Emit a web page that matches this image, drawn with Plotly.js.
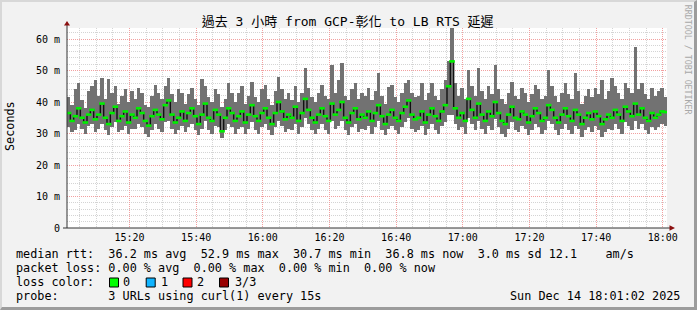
<!DOCTYPE html>
<html><head><meta charset="utf-8">
<script src="https://cdn.plot.ly/plotly-3.0.1.min.js"></script>
<style>
html,body{margin:0;padding:0;background:#f2f2f2;}
#wrap{position:relative;width:697px;height:310px;overflow:hidden;}
#chart{width:697px;height:310px;}
#frame{position:absolute;left:0;top:0;width:697px;height:310px;box-sizing:border-box;pointer-events:none;
 border-top:2px solid #d8d8d8;border-left:2px solid #d8d8d8;border-right:3px solid #9c9c9c;border-bottom:3px solid #9c9c9c;}
</style></head>
<body><div id="wrap"><div id="chart"></div><div id="frame"></div></div>
<script>
// ---- data (ms) ----
const startTime = '2025-12-14 15:01:45';   // centre of first step
const stepSeconds = 60;
const medianRtt = [
36.5,34.0,35.5,38.0,35.0,33.5,36.0,37.5,34.5,36.0,
39.5,35.0,33.0,36.5,38.5,34.0,35.5,37.0,33.5,36.0,
35.0,38.0,36.5,34.0,32.5,35.5,37.5,36.0,34.5,39.0,
40.5,36.0,33.5,35.0,37.0,34.0,36.5,38.0,35.5,33.0,
36.0,39.5,35.0,34.0,37.5,36.0,30.7,35.0,38.0,36.5,
34.0,35.5,37.0,33.5,36.0,39.0,35.5,34.0,36.5,38.0,
35.0,33.0,36.5,40.0,37.0,34.5,36.0,35.0,38.5,34.0,
36.5,41.0,37.5,35.0,33.5,36.0,38.0,35.5,34.0,39.5,
36.0,37.5,40.0,35.0,33.5,36.5,38.0,34.5,36.0,35.0,
37.0,34.0,36.5,39.0,35.5,33.0,36.0,37.5,35.0,34.0,
36.5,38.5,40.5,36.0,34.5,35.0,37.0,33.5,36.0,38.0,
35.5,34.0,37.0,39.0,45.0,52.9,38.0,35.0,36.5,34.0,
41.0,37.5,35.0,39.5,36.0,34.0,37.0,35.5,40.0,36.5,
34.0,33.0,36.0,38.5,35.0,34.5,37.0,36.0,33.5,35.5,
38.0,36.5,34.0,35.0,39.0,37.5,35.0,33.5,36.0,38.0,
35.5,34.0,37.5,36.0,33.0,35.0,36.5,34.5,37.0,35.5,
33.0,34.5,36.0,35.0,37.5,36.0,34.0,38.5,37.0,35.5,
39.5,36.0,38.0,35.0,34.0,36.5,35.0,36.0,37.0,36.8];
const minRtt = [
32.0,30.5,31.0,33.0,31.5,30.0,32.5,33.0,30.5,31.5,
33.0,31.0,29.5,32.0,33.5,30.5,31.0,32.5,30.0,31.5,
31.5,33.0,32.0,30.0,29.0,31.0,33.0,31.5,30.5,33.5,
34.0,31.5,30.0,31.0,32.5,30.5,32.0,33.0,31.0,29.5,
31.5,34.0,31.0,30.0,32.5,32.0,28.5,31.0,33.0,32.0,
30.0,31.5,32.0,30.0,31.5,33.5,31.0,30.0,32.0,33.0,
31.0,29.5,32.0,34.0,32.5,30.5,31.5,31.0,33.0,30.0,
32.0,35.0,33.0,31.0,30.0,31.5,33.0,31.0,30.0,34.0,
31.5,32.5,34.0,31.0,29.5,32.0,33.0,30.5,31.5,31.0,
32.5,30.0,32.0,34.0,31.0,29.5,31.5,32.5,31.0,30.0,
32.0,33.5,35.0,31.5,30.5,31.0,32.5,29.5,31.5,33.0,
31.0,30.0,32.5,33.5,36.0,36.0,33.0,31.0,32.0,30.0,
35.0,33.0,31.0,34.0,31.5,30.0,32.5,31.0,34.5,32.0,
30.0,29.0,31.5,33.5,31.0,30.5,32.5,31.5,29.5,31.0,
33.0,32.0,30.0,31.0,34.0,33.0,31.0,29.5,31.5,33.0,
31.0,30.0,32.5,31.5,29.0,31.0,32.0,30.5,32.5,31.0,
29.0,30.5,31.5,31.0,33.0,31.5,30.0,33.5,32.5,31.0,
34.0,31.5,33.0,31.0,30.0,32.0,31.0,32.0,33.0,32.5];
const maxRtt = [
41.5,39.0,44.0,46.0,40.5,38.0,43.5,45.0,47.0,42.0,
47.5,41.0,47.2,43.0,45.0,39.5,42.0,44.0,40.0,43.5,
41.0,44.5,43.0,39.0,38.5,42.0,45.5,43.0,41.0,45.0,
47.6,42.5,40.0,44.0,43.0,39.5,42.5,44.5,41.0,39.0,
47.2,45.0,41.5,40.0,44.0,42.5,38.5,41.0,46.0,43.0,
40.0,43.0,45.0,39.5,42.0,46.3,41.5,40.0,44.0,45.5,
41.0,39.0,43.5,48.0,44.0,41.0,43.0,40.5,45.0,40.0,
43.0,50.8,44.5,41.5,40.0,43.0,45.5,42.0,41.0,51.7,
43.0,47.0,52.5,42.0,40.5,44.0,46.0,41.0,43.0,42.0,
44.5,40.5,43.5,49.2,42.0,39.5,44.7,45.5,41.5,40.0,
43.0,46.0,47.0,43.0,41.5,42.0,46.0,40.5,43.0,46.0,
42.0,40.5,44.0,47.0,53.0,63.5,46.0,42.0,44.5,41.0,
50.2,45.0,42.0,50.9,43.5,41.0,45.0,42.5,51.7,44.0,
41.0,39.5,43.0,46.5,42.0,41.0,44.5,43.0,40.0,42.5,
45.5,44.0,41.0,42.0,50.2,45.0,42.0,40.0,43.0,46.0,
42.5,41.0,49.3,43.5,39.5,42.0,44.0,41.5,44.5,42.5,
47.0,41.0,43.5,47.6,45.0,43.0,41.0,46.0,44.5,43.0,
57.6,44.0,46.0,42.5,41.0,44.5,42.0,43.5,44.4,41.5];
const yTickVals = [0,10,20,30,40,50,60];
const yTickText = ['0','10 m','20 m','30 m','40 m','50 m','60 m'];
const titleText = '過去 3 小時 from GCP-彰化 to LB RTS 延遲';
const legendLines = [
 'median rtt:  36.2 ms avg  52.9 ms max  30.7 ms min  36.8 ms now  3.0 ms sd 12.1    am/s',
 'packet loss: 0.00 % avg  0.00 % max  0.00 % min  0.00 % now',
 'loss color:',
 'probe:       3 URLs using curl(1) every 15s'];
const lossLabels = ['0','1','2','3/3'];
const lossColors = ['#00ff00','#10b4ff','#ff0000','#990000'];
const dateText = 'Sun Dec 14 18:01:02 2025';

// ---- build ----
function pad(n){return String(n).padStart(2,'0');}
function tstr(base, addSec){
  const d = new Date(base.replace(' ','T')+'Z');
  d.setUTCSeconds(d.getUTCSeconds()+addSec);
  return d.getUTCFullYear()+'-'+pad(d.getUTCMonth()+1)+'-'+pad(d.getUTCDate())+' '+pad(d.getUTCHours())+':'+pad(d.getUTCMinutes())+':'+pad(d.getUTCSeconds());
}
const times = medianRtt.map((_,i)=>tstr(startTime, i*stepSeconds));
const mono = "'DejaVu Sans Mono', 'Noto Sans CJK TC', monospace";
const L=67, T=28, W=600, H=200;
const px = x => (x-L)/W;
const py = y => (T+H-y)/H;
const nb = s => s.replace(/ /g,'\u00a0');

const traces = [
 {type:'bar', x:times, base:minRtt, y:maxRtt.map((v,i)=>v-minRtt[i]), width:stepSeconds*1000,
  marker:{color:'#727272', line:{width:0}}, hoverinfo:'skip'},
 {type:'scatter', mode:'lines', x:times, y:medianRtt, line:{color:'#111111', width:1.4, shape:'hvh'}, hoverinfo:'skip'},
 {type:'scatter', mode:'markers', x:times, y:medianRtt,
  marker:{symbol:'line-ew', size:4, line:{color:'#00f000', width:2.6}}, hoverinfo:'skip'}
];

const ann = [];
const lineY = [254, 268.3, 282.3, 295.8];
legendLines.forEach((t,i)=>ann.push({text:nb(t), x:px(15), y:py(lineY[i]), xref:'paper', yref:'paper',
  xanchor:'left', yanchor:'middle', showarrow:false, borderpad:0, font:{family:mono, size:11.8, color:'#000'}}));
const boxX = [109.5, 146.2, 183, 219.5];
const labX = [122.3, 160, 196.3, 234];
const shapes = [];
lossLabels.forEach((t,i)=>{
  ann.push({text:nb(t), x:px(labX[i]), y:py(lineY[2]), xref:'paper', yref:'paper', xanchor:'left', yanchor:'middle',
    showarrow:false, borderpad:0, font:{family:mono, size:11.8, color:'#000'}});
  shapes.push({type:'rect', xref:'paper', yref:'paper', x0:px(boxX[i]), x1:px(boxX[i]+9), y0:py(278), y1:py(287),
    fillcolor:lossColors[i], line:{color:'#000', width:1}});
});
ann.push({text:nb(dateText), x:px(681), y:py(lineY[3]), xref:'paper', yref:'paper', xanchor:'right', yanchor:'middle',
  showarrow:false, borderpad:0, font:{family:mono, size:11.8, color:'#000'}});
ann.push({text:'Seconds', x:px(10), y:py(126), xref:'paper', yref:'paper', xanchor:'center', yanchor:'middle',
  textangle:-90, showarrow:false, borderpad:0, font:{family:mono, size:11.8, color:'#000'}});
ann.push({text:nb('RRDTOOL / TOBI OETIKER'), x:px(688.3), y:py(60), xref:'paper', yref:'paper', xanchor:'center', yanchor:'middle',
  textangle:90, showarrow:false, borderpad:0, font:{family:mono, size:8.3, color:'#a8a8a8'}});

// axes lines and arrows
shapes.push({type:'line', xref:'paper', yref:'paper', x0:px(63), x1:px(670), y0:0, y1:0, line:{color:'#333', width:1}});
shapes.push({type:'line', xref:'paper', yref:'paper', x0:0, x1:0, y0:0, y1:py(24), line:{color:'#333', width:1}});
shapes.push({type:'path', xref:'paper', yref:'paper', xsizemode:'pixel', ysizemode:'pixel', xanchor:px(67), yanchor:py(25.5),
  path:'M -3 0 L 3 0 L 0 4.5 Z', fillcolor:'#8b1010', line:{width:0}});
shapes.push({type:'path', xref:'paper', yref:'paper', xsizemode:'pixel', ysizemode:'pixel', xanchor:px(669.5), yanchor:0,
  path:'M 0 -2.8 L 0 2.8 L 5.5 0 Z', fillcolor:'#8b1010', line:{width:0}});

const layout = {
 width:697, height:310, margin:{l:L, r:697-L-W, t:T, b:310-T-H},
 paper_bgcolor:'#f2f2f2', plot_bgcolor:'#ffffff', showlegend:false, bargap:0, barmode:'overlay',
 title:{text:titleText, font:{family:mono, size:13, color:'#000'}, xref:'container', yref:'container',
   x:347.7/697, xanchor:'center', y:1-21.6/310, yanchor:'middle'},
 xaxis:{type:'date', range:['2025-12-14 15:01:15','2025-12-14 18:01:15'], tick0:'2025-12-14 15:20:00', dtick:1200000,
   tickformat:'%H:%M', showgrid:true, gridcolor:'#f2a0a0', griddash:'1px,1px', gridwidth:1, zeroline:false, showline:false,
   ticks:'', ticklabelstandoff:2, tickfont:{family:mono, size:10, color:'#000'},
   minor:{dtick:300000, tick0:'2025-12-14 15:20:00', showgrid:true, gridcolor:'#d4d4d4', griddash:'1px,1px', gridwidth:1}},
 yaxis:{range:[0,63.5], tickmode:'array', tickvals:yTickVals, ticktext:yTickText, showgrid:true, gridcolor:'#f2a0a0',
   griddash:'1px,1px', gridwidth:1, zeroline:false, showline:false, ticks:'', ticklabelstandoff:6,
   tickfont:{family:mono, size:10, color:'#000'},
   minor:{tickmode:'linear', tick0:0, dtick:2, showgrid:true, gridcolor:'#d4d4d4', griddash:'1px,1px', gridwidth:1}},
 annotations:ann, shapes:shapes, hovermode:false
};
Plotly.newPlot('chart', traces, layout, {staticPlot:true, displayModeBar:false});
</script></body></html>
